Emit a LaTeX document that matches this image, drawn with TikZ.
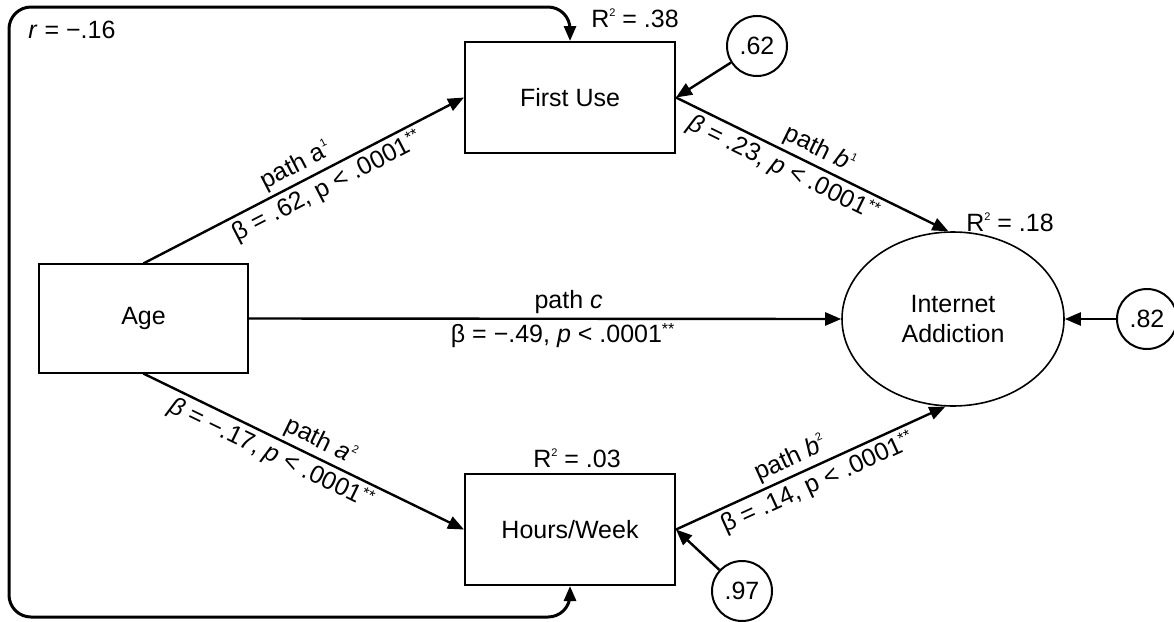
\documentclass[tikz,border=0pt]{standalone}
\usepackage{fontspec}
\setmainfont{Liberation Sans}
\usetikzlibrary{arrows.meta,shapes.geometric}
\newcommand\mysup[1]{\raisebox{0.85ex}{\fontsize{11}{11}\selectfont #1}}
\newcommand\stars{\raisebox{0.6ex}{\fontsize{16}{16}\selectfont **}}
\begin{document}
\begin{tikzpicture}[x=1pt,y=-1pt,
  font=\fontsize{25}{30}\selectfont,
  box/.style={draw, line width=2pt, minimum width=210pt, minimum height=111pt, inner sep=0pt},
  agebox/.style={draw, line width=1.2pt, minimum width=209pt, minimum height=109pt, inner sep=0pt},
  errc/.style={draw, circle, line width=2pt, minimum size=60pt, inner sep=0pt},
  arr/.style={line width=2.4pt, -{Triangle[length=16pt,width=13pt]}},
  corr/.style={line width=3pt, rounded corners=22pt, {Triangle[length=15pt,width=12pt]}-{Triangle[length=15pt,width=12pt]}},
  lab/.style={inner sep=3.5pt},
  txt/.style={inner sep=0pt}]
\useasboundingbox (0,0) rectangle (1174,621);

\node[box] (FU) at (570,97.5) {First Use};
\node[box] (HW) at (570,529.5) {Hours/Week};
\node[agebox] (AGE) at (143.5,318.5) {Age};
\node[draw, ellipse, line width=1.6pt, minimum width=222pt, minimum height=174pt, inner sep=0pt, align=center] (IA) at (953,319) {Internet\\Addiction};

\node[errc] (E1) at (757,46) {.62};
\node[errc] (E3) at (1147,319) {.82};
\node[errc] (E2) at (742,591) {.97};

\node[txt] (R1) at (635,18) {R\mysup{2} = .38};
\node[txt] (R3) at (1010,222) {R\mysup{2} = .18};
\node[txt] (R2) at (577,458) {R\mysup{2} = .03};
\node[txt] (RR) at (72,30) {\textit{r} = −.16};

\coordinate (TL) at (9,7);
\coordinate (BL) at (9,617);

% correlation
\draw[corr] (FU.north) -- (FU.north |- TL) -- (TL) -- (BL) -- (HW.south |- BL) -- (HW.south);

% paths
\draw[arr] (AGE.north) -- node[lab, sloped, above, pos=0.5] {path a\mysup{1}}
  node[lab, sloped, below, pos=0.55] {β = .62, p < .0001\stars} (FU.west);
\draw[arr] (FU.east) -- node[lab, sloped, above, pos=0.5] {path \textit{b}\mysup{1}}
  node[lab, sloped, below, pos=0.42] {\textit{β} = .23, \textit{p} < .0001\stars} (IA.93);
\draw[arr] (AGE.east) -- node[lab, above, pos=0.54] {path \textit{c}}
  node[lab, below, pos=0.53] {β = −.49, \textit{p} < .0001\stars} (IA.west);
\draw[arr] (AGE.south) -- node[lab, sloped, above, pos=0.53] {path \textit{a}\mysup{2}}
  node[lab, sloped, below, pos=0.42] {\textit{β} = −.17, \textit{p} < .0001\stars} (HW.west);
\draw[arr] (HW.east) -- node[lab, sloped, above, pos=0.45] {path \textit{b}\mysup{2}}
  node[lab, sloped, below, pos=0.5] {β = .14, p < .0001\stars} (IA.265);

% errors
\draw[arr] (E1) -- (FU.east);
\draw[arr] (E3) -- (IA.east);
\draw[arr] (E2) -- (HW.east);
\end{tikzpicture}
\end{document}
